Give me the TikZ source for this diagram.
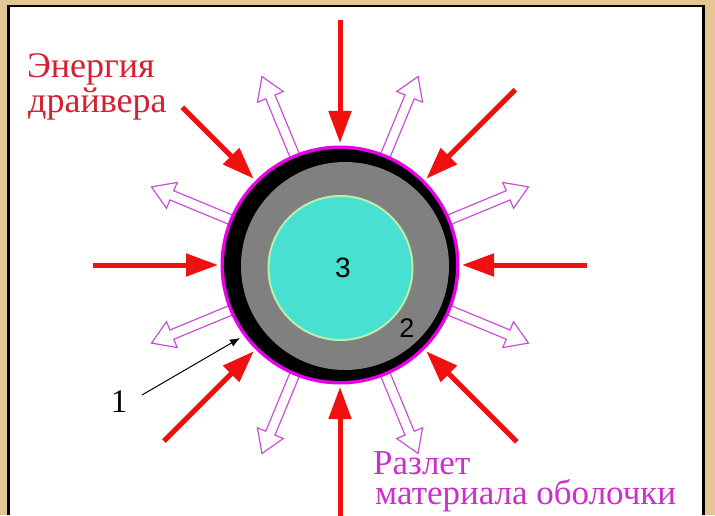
\documentclass[tikz,border=0pt]{standalone}
\usepackage{fontspec}
\setmainfont{Liberation Serif}
\newfontfamily\digitfont{Liberation Sans}
\usetikzlibrary{arrows.meta}
\definecolor{gold}{HTML}{E4C695}
\definecolor{redarrow}{HTML}{F01010}
\definecolor{redtext}{HTML}{D42030}
\definecolor{magarrow}{HTML}{C850D8}
\definecolor{magring}{HTML}{E800E8}
\definecolor{magtext}{HTML}{CC30CC}
\definecolor{coreblue}{HTML}{48E0D0}
\definecolor{coreedge}{HTML}{B8F0A8}
\definecolor{shellgray}{HTML}{808080}
\tikzset{
  inarrow/.style={draw=redarrow, line width=5pt, -{Triangle[length=32pt,width=22pt]}},
  outarrow/.style={draw=magarrow, line width=1.2pt, line join=miter, fill=white},
  redlabel/.style={text=redtext, font=\fontsize{36}{36}\selectfont, inner sep=0pt, anchor=base west},
  maglabel/.style={text=magtext, font=\fontsize{35}{30}\selectfont, inner sep=0pt, align=left},
  numlabel/.style={text=black, inner sep=0pt},
}
\begin{document}
\begin{tikzpicture}[x=1pt,y=1pt]
\useasboundingbox (0,0) rectangle (715,515);
% frame
\fill[gold] (0,0) rectangle (715,515);
\fill[black] (7,0) rectangle (705,510);
\fill[white] (9.5,0) rectangle (702,507.5);

\coordinate (c) at (340,250);

% hollow outward arrows
\begin{scope}[shift={(c)}]
\foreach \a in {22.5,67.5,112.5,157.5,202.5,247.5,292.5,337.5}{
  \draw[outarrow, rotate=\a] (118,5) -- (182,5) -- (182,14) -- (204,0) -- (182,-14) -- (182,-5) -- (118,-5);
}
\end{scope}

% target
\fill[magring] (c) circle (119.5);
\fill[black] (c) circle (116);
\fill[shellgray] (345,249) circle (104);
\node[circle, fill=coreblue, draw=coreedge, line width=2pt, minimum size=144pt, inner sep=0pt] (core) at (340.5,247) {};
\node[numlabel, font=\digitfont\fontsize{28}{28}\selectfont] (n3) at (343,247) {3};
\node[numlabel, font=\digitfont\fontsize{27}{27}\selectfont] (n2) at (407,187) {2};

% red inward arrows
\begin{scope}[shift={(c)}]
\foreach \a/\r in {0/247,45/248,90/245,135/223,180/247,225/249,270/252,315/250}{
  \draw[inarrow] (\a:\r) -- (\a:122);
}
\end{scope}

% label 1
\node[numlabel, font=\fontsize{33}{33}\selectfont] (n1) at (119,113) {1};
\coordinate (p1a) at (142,120);
\coordinate (p1b) at (240,177);
\draw[black, line width=1pt, -{Latex[length=10pt,width=8pt]}] (p1a) -- (p1b);

% texts
\node[redlabel] (t1) at (27,437) {Энергия};
\node[redlabel] (t2) at (28,402) {драйвера};
\node[maglabel, anchor=north west] (t3) at (373,64) {Разлет\\\hspace*{2pt}материала оболочки};
\end{tikzpicture}
\end{document}
